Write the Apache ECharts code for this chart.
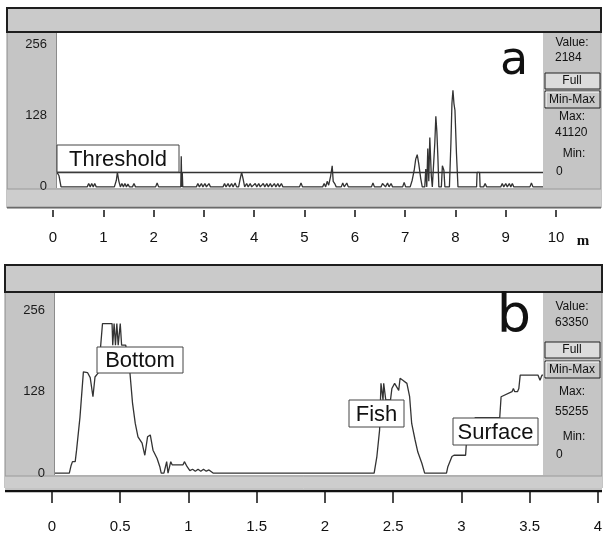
<!DOCTYPE html>
<html>
<head>
<meta charset="utf-8">
<script src="https://cdn.jsdelivr.net/npm/echarts@6/dist/echarts.min.js"></script>
<style>
html, body { margin: 0; padding: 0; background: #fff; }
#chart { width: 605px; height: 540px; }
</style>
</head>
<body>
<div id="chart"></div>
<script>
// panel a: echo level along the track, distance in m
var traceA = [
  [0.08, 26], [0.12, 20], [0.16, 0], [0.68, 0], [0.71, 6], [0.74, 0], [0.77, 6], [0.8, 0], [0.83, 6], [0.86, 0],
  [1.22, 0], [1.26, 12], [1.28, 26], [1.31, 10], [1.34, 0], [1.37, 6], [1.4, 0], [1.43, 6], [1.46, 0], [1.49, 5], [1.52, 0],
  [1.58, 0], [1.61, 6], [1.64, 0], [2.04, 0], [2.07, 7], [2.1, 0],
  [2.54, 0], [2.55, 55], [2.56, 0], [2.57, 26], [2.58, 0],
  [2.85, 0], [2.88, 6], [2.91, 0], [2.95, 6], [2.98, 0], [3.02, 6], [3.05, 0], [3.1, 6], [3.13, 0],
  [3.38, 0], [3.41, 6], [3.44, 0], [3.48, 6], [3.51, 0], [3.55, 6], [3.58, 0], [3.62, 7], [3.65, 0],
  [3.69, 0], [3.72, 14], [3.75, 26], [3.78, 14], [3.81, 0], [3.85, 6], [3.88, 0], [3.92, 6], [3.95, 0],
  [4.02, 6], [4.05, 0], [4.09, 6], [4.12, 0], [4.18, 6], [4.21, 0], [4.25, 6], [4.28, 0], [4.32, 6], [4.35, 0],
  [4.4, 6], [4.43, 0], [4.47, 6], [4.5, 0], [4.54, 6], [4.57, 0], [4.9, 0], [4.93, 7], [4.96, 0],
  [5.36, 0], [5.39, 6], [5.42, 0], [5.45, 10], [5.48, 3], [5.52, 20], [5.55, 38], [5.57, 10], [5.6, 6], [5.63, 0],
  [5.73, 0], [5.76, 7], [5.79, 0], [5.84, 7], [5.87, 0], [6.33, 0], [6.36, 7], [6.39, 0],
  [6.52, 0], [6.55, 6], [6.58, 7], [6.61, 0], [6.65, 7], [6.68, 0], [6.72, 6], [6.75, 0], [6.95, 0], [6.98, 8], [7.01, 0],
  [7.1, 0], [7.14, 12], [7.18, 30], [7.21, 50], [7.24, 58], [7.27, 42], [7.31, 15], [7.34, 0],
  [7.39, 0], [7.41, 32], [7.43, 0], [7.45, 69], [7.47, 10], [7.49, 89], [7.52, 20], [7.54, 0],
  [7.57, 0], [7.59, 80], [7.61, 127], [7.63, 100], [7.65, 55], [7.67, 0], [7.72, 0], [7.74, 38], [7.77, 30], [7.79, 0],
  [7.88, 0], [7.91, 80], [7.93, 150], [7.95, 174], [7.97, 150], [7.99, 138], [8.02, 60], [8.05, 0],
  [8.42, 0], [8.43, 26], [8.48, 26], [8.49, 0], [8.56, 0], [8.59, 6], [8.62, 0],
  [8.9, 0], [8.93, 6], [8.96, 0], [9.0, 6], [9.03, 0], [9.07, 6], [9.1, 0], [9.13, 6], [9.16, 0],
  [9.48, 0], [9.51, 7], [9.54, 0], [9.74, 0]
];
var thresholdA = 27;

// panel b: echo level along the beam
var traceB = [
  [0.022, 0], [0.127, 0], [0.14, 12], [0.15, 18], [0.17, 18], [0.18, 36], [0.205, 88], [0.23, 159], [0.26, 158],
  [0.28, 150], [0.3, 120], [0.315, 151], [0.34, 158], [0.35, 183], [0.37, 235], [0.44, 235], [0.445, 201],
  [0.455, 235], [0.465, 201], [0.475, 235], [0.485, 201], [0.5, 235], [0.51, 201], [0.54, 201], [0.57, 160],
  [0.59, 110], [0.61, 78], [0.63, 57], [0.66, 47], [0.68, 28], [0.7, 57], [0.72, 60], [0.74, 36], [0.77, 23],
  [0.79, 10], [0.8, 0], [0.82, 0], [0.84, 18], [0.85, 0], [0.87, 18], [0.88, 13], [0.96, 13], [0.97, 18],
  [0.99, 10], [1.01, 4], [1.03, 6], [1.05, 3], [1.07, 6], [1.09, 3], [1.11, 6], [1.13, 3], [1.15, 5], [1.18, 0],
  [1.66, 0], [1.67, 2], [1.68, 0], [1.93, 0], [1.94, 2], [1.95, 0],
  [2.36, 0], [2.38, 26], [2.4, 68], [2.41, 141], [2.42, 141], [2.425, 115], [2.43, 141], [2.44, 141], [2.445, 115],
  [2.48, 115], [2.49, 133], [2.51, 141], [2.54, 130], [2.55, 149], [2.57, 146], [2.6, 141], [2.62, 120],
  [2.635, 78], [2.66, 52], [2.68, 33], [2.71, 15], [2.73, 0], [2.89, 0], [2.9, 10], [2.93, 26], [2.945, 28],
  [3.03, 28], [3.035, 45], [3.08, 70], [3.1, 87], [3.28, 87], [3.29, 120], [3.3, 123], [3.37, 128], [3.38, 133],
  [3.39, 128], [3.41, 128], [3.42, 133], [3.43, 154], [3.56, 154], [3.575, 146], [3.59, 154], [3.597, 154]
];
var yLabels = [0, 128, 256];
var infoA = ['2184', '41120', '0'];
var infoB = ['63350', '55255', '0'];

var myChart = echarts.init(document.getElementById('chart'));
var font = 'Liberation Sans, Arial, sans-serif';

function rect(x, y, w, h, fill, stroke, lw, z) {
  return { type: 'rect', z: z || 0, shape: { x: x, y: y, width: w, height: h },
    style: { fill: fill, stroke: stroke || null, lineWidth: lw || 1 } };
}
function line(x1, y1, x2, y2, stroke, lw, z) {
  return { type: 'line', z: z || 0, shape: { x1: x1, y1: y1, x2: x2, y2: y2 },
    style: { stroke: stroke, lineWidth: lw || 1 } };
}
function text(t, x, y, size, align, z, fam) {
  return { type: 'text', z: z || 10, x: x, y: y,
    style: { text: t, font: size + 'px ' + (fam || font), fill: '#111',
      align: align || 'center', textAlign: align || 'center', verticalAlign: 'middle', textVerticalAlign: 'middle' } };
}
function tagBox(t, x, y, w, h) {
  return [rect(x, y, w, h, '#fff', '#444', 1, 20), text(t, x + w / 2, y + h / 2 + 1, 22, 'center', 21)];
}
// right hand info panel of the program window
function infoPanel(vals, y0, yv, yFull, yMm, yMax, yMaxV, yMin, yMinV) {
  return [
    text('Value:', 572, y0, 12), text(vals[0], 555, yv, 12, 'left'),
    rect(545, yFull, 55, 16, '#dcdcdc', '#222', 1, 10), text('Full', 572, yFull + 8, 12, 'center', 11),
    rect(545, yMm, 55, 17, '#c8c8c8', '#222', 1, 10),
    line(546, yMm + 1, 599, yMm + 1, '#fff', 1, 11), line(546, yMm + 1, 546, yMm + 16, '#fff', 1, 11),
    text('Min-Max', 572, yMm + 9, 12, 'center', 12),
    text('Max:', 572, yMax, 12), text(vals[1], 555, yMaxV, 12, 'left'),
    text('Min:', 574, yMin, 12), text(vals[2], 556, yMinV, 12, 'left')
  ];
}

var graphics = [
  // panel a window
  rect(7, 8, 594, 200, '#c5c5c5', '#8a8a8a', 1, 0),
  rect(7, 8, 594, 24, '#cacaca', '#1e1e1e', 2, 1),
  rect(57, 33, 486, 155, '#fff', null, 1, 1),
  line(56.5, 33, 56.5, 188, '#8c8c8c', 1, 1),
  rect(7, 189, 594, 19, '#cdcdcd', null, 1, 1),
  line(7, 189, 601, 189, '#9a9a9a', 1, 1),
  line(7, 207.5, 601, 207.5, '#6a6a6a', 1.5, 1),
  text('a', 514, 62, 46, 'center', 10, 'DejaVu Sans, sans-serif'),
  text('m', 583, 241, 15, 'center', 10, 'Liberation Serif, serif'),
  // panel b window
  rect(5, 265, 597, 223, '#c5c5c5', '#8a8a8a', 1, 0),
  rect(5, 265, 597, 27, '#cacaca', '#1e1e1e', 2, 1),
  rect(55, 293, 488, 182, '#fff', null, 1, 1),
  line(54.5, 293, 54.5, 475, '#8c8c8c', 1, 1),
  rect(5, 476, 597, 12, '#cdcdcd', null, 1, 1),
  line(5, 476, 602, 476, '#9a9a9a', 1, 1),
  line(5, 491, 602, 491, '#111', 2.5, 1),
  text('b', 514, 318, 54, 'center', 10, 'DejaVu Sans, sans-serif')
];
graphics[8].style.font = 'bold 15px Liberation Serif, serif';
graphics = graphics
  .concat(tagBox('Threshold', 57, 145, 122, 27))
  .concat(tagBox('Bottom', 97, 347, 86, 26))
  .concat(tagBox('Fish', 349, 400, 55, 27))
  .concat(tagBox('Surface', 453, 418, 85, 27))
  .concat(infoPanel(infoA, 43, 58, 73, 91, 117, 133, 154, 172))
  .concat(infoPanel(infoB, 307, 323, 342, 361, 392, 412, 437, 455));

function plotY(gi, min, max) {
  return {
    gridIndex: gi, type: 'value', min: min, max: max, z: 5,
    axisLine: { show: false }, axisTick: { show: false }, splitLine: { show: false },
    axisLabel: { customValues: yLabels, margin: 10, fontSize: 13, color: '#1a1a1a', fontFamily: font }
  };
}
function hiddenAxis(gi, type, min, max) {
  return { gridIndex: gi, type: type, min: min, max: max, show: false };
}
function scaleX(gi, max, interval, tickLen, margin) {
  return {
    gridIndex: gi, type: 'value', min: 0, max: max, interval: interval, z: 5,
    axisLine: { show: false }, splitLine: { show: false },
    axisTick: { show: true, length: tickLen, lineStyle: { color: '#111', width: 1.5 } },
    axisLabel: { margin: margin, fontSize: 15, color: '#111', fontFamily: font }
  };
}

var option = {
  animation: false,
  backgroundColor: '#fff',
  graphic: { elements: graphics },
  grid: [
    { left: 57, top: 33, width: 486, height: 155 },
    { left: 53, top: 200, width: 503, height: 10 },
    { left: 55, top: 293, width: 488, height: 182 },
    { left: 52, top: 481, width: 546, height: 10 }
  ],
  xAxis: [
    hiddenAxis(0, 'value', 0.08, 9.74),
    scaleX(1, 10, 1, 7, 20),
    hiddenAxis(2, 'value', 0.022, 3.597),
    scaleX(3, 4, 0.5, 12, 28)
  ],
  yAxis: [
    plotY(0, -2, 277),
    hiddenAxis(1, 'value', 0, 1),
    plotY(2, -3, 283),
    hiddenAxis(3, 'value', 0, 1)
  ],
  series: [
    {
      type: 'line', xAxisIndex: 0, yAxisIndex: 0, data: traceA, symbol: 'none', z: 3,
      lineStyle: { color: '#333', width: 1.3 },
      markLine: {
        silent: true, symbol: 'none', label: { show: false },
        lineStyle: { color: '#333', type: 'solid', width: 1.3 },
        data: [{ yAxis: thresholdA }]
      }
    },
    {
      type: 'line', xAxisIndex: 2, yAxisIndex: 2, data: traceB, symbol: 'none', z: 3,
      lineStyle: { color: '#333', width: 1.3 }
    }
  ]
};
myChart.setOption(option);
</script>
</body>
</html>
